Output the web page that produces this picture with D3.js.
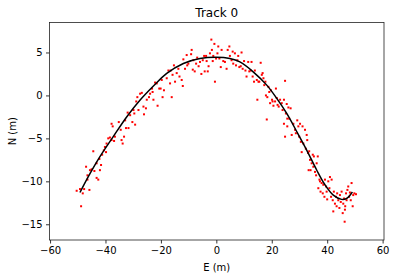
<!DOCTYPE html>
<html>
<head>
<meta charset="utf-8">
<script src="https://cdn.jsdelivr.net/npm/d3@7"></script>
<style>
  body { margin: 0; background: #fff; }
  text { font-family: "DejaVu Sans", sans-serif; fill: #000; }
</style>
</head>
<body>
<div id="chart-area"></div>
<script>
// true track
const trackE = [-49.2, -46.2, -42.0, -37.2, -32.3, -27.5, -22.7, -17.9, -11.9, -5.9, 0, 4.9, 8.5, 13.3, 18.2, 21.8, 25.4, 29.0, 32.6, 36.2, 39.2, 42.2, 45.2, 47.0, 49.1];
const trackN = [-11.3, -9.46, -7.13, -4.8, -2.48, -0.54, 1.09, 2.56, 3.72, 4.3, 4.45, 4.3, 3.9, 2.75, 1.2, -0.35, -2.1, -4.2, -6.36, -8.68, -10.4, -11.6, -12.1, -12.0, -11.24];

// noisy measurements (red dots)
const measE = [-50.4, -49.2, -48.8, -48.2, -47.7, -47.0, -46.5, -45.8, -46.5, -45.6, -45.0, -44.4, -44.0, -43.2, -42.6, -43.2, -42.2, -42.0, -41.6, -41.2,
  -40.6, -40.2, -39.8, -39.6, -39.0, -38.4, -37.8, -37.8, -37.4, -36.9, -36.6, -35.2, -34.5, -34.2, -33.8, -33.3, -32.9, -32.6, -32.0, -31.7,
  -31.1, -30.3, -29.9, -29.6, -29.3, -28.9, -28.5, -28.1, -27.5, -26.9, -26.3, -26.1, -25.4, -25.1, -24.3, -23.9, -23.2, -23.0, -22.7, -22.1,
  -21.5, -21.2, -20.6, -20.1, -19.7, -19.4, -18.9, -17.9, -17.3, -16.7, -16.5, -16.1, -15.8, -15.3, -14.9, -14.3, -13.7, -13.3, -12.5, -12.1,
  -11.9, -11.3, -10.7, -10.5, -10.1, -8.9, -9.1, -8.5, -8.3, -7.8, -7.3, -6.9, -6.4, -5.9, -5.4, -4.9, -4.4, -4.2, -3.7, -3.5,
  -3.1, -2.8, -2.3, -1.8, -1.6, -1.3, -1.1, -0.7, -0.5, -0.1, 0.4, 0.7, 1.1, 1.6, 1.9, 2.5, 3.1, 3.7, 4.1, 4.7,
  4.9, 5.5, 5.9, 6.1, 6.7, 7.1, 7.6, 7.9, 8.3, 8.8, 9.1, 9.5, 10.0, 10.5, 10.9, 11.5, 11.9, 12.4, 12.7, 13.1,
  13.6, 13.9, 14.6, 14.8, 15.2, 15.5, 16.0, 16.4, 16.7, 17.0, 17.3, 17.7, 17.9, 18.4, 18.8, 19.1, 19.4, 19.7, 20.1, 20.3,
  20.6, 21.2, 21.5, 21.8, 22.1, 22.5, 23.0, 23.6, 23.9, 24.4, 24.8, 25.1, 25.4, 25.6, 26.0, 26.3, 26.8, 18.2, 24.4, 24.8,
  25.6, 27.2, 27.8, 28.4, 28.7, 29.2, 29.6, 29.9, 30.2, 30.5, 30.8, 31.1, 31.4, 32.0, 32.3, 32.6, 32.8, 33.1, 33.3, 33.5,
  33.8, 34.0, 34.4, 34.8, 35.0, 35.2, 35.6, 36.0, 36.2, 36.6, 36.8, 37.2, 37.4, 37.6, 38.0, 38.4, 38.6, 39.0, 39.2, 39.6,
  39.8, 40.0, 40.4, 40.8, 41.0, 41.4, 41.6, 42.0, 42.2, 42.4, 42.8, 43.2, 43.4, 43.6, 44.0, 44.4, 44.6, 44.9, 45.2, 45.6,
  45.8, 46.1, 46.3, 46.5, 46.8, 47.0, 47.3, 47.6, 47.9, 48.2, 48.5, 48.8, 49.2, 49.4, 49.8, 50.4, 46.4];
const measN = [-11.1, -10.9, -12.9, -11.4, -10.9, -8.3, -9.3, -11.0, -9.8, -8.7, -8.6, -6.5, -8.8, -9.6, -9.8, -7.9, -7.4, -8.7, -8.1, -6.9,
  -6.4, -6.0, -6.6, -5.6, -5.0, -4.9, -5.2, -3.3, -3.6, -5.3, -4.8, -3.1, -4.0, -5.2, -5.6, -4.8, -2.9, -3.8, -2.0, -3.8,
  -2.3, -3.1, -1.7, -2.1, -3.4, -0.7, -0.2, -1.7, 0.2, 0.3, -1.3, -2.2, -1.5, -0.5, -0.2, 0.2, 0.8, 0.4, -0.5, 1.5,
  1.4, -1.2, 0.8, 0.8, 1.8, -0.2, 0.6, 2.0, 2.9, 1.4, 2.9, -0.2, 2.4, 3.5, 1.6, 2.6, 3.1, 2.2, 1.8, 1.1,
  4.2, 3.1, 4.7, 3.5, 3.7, 5.3, 4.8, 3.0, 4.1, 2.8, 3.7, 4.4, 3.4, 3.9, 2.5, 4.1, 4.6, 2.8, 4.6, 4.0,
  2.8, 3.4, 4.9, 6.5, 5.3, 4.0, 4.6, 6.0, 1.6, 4.3, 4.9, 5.7, 4.3, 3.3, 5.3, 4.0, 3.9, 3.1, 5.3, 5.7,
  4.6, 4.1, 5.1, 3.7, 4.9, 3.5, 4.1, 4.6, 3.3, 3.4, 5.0, 3.1, 4.0, 2.9, 2.2, 3.9, 2.8, 2.9, 3.9, 2.2,
  1.6, 2.9, 1.8, -0.5, 1.6, 1.6, 3.8, 2.4, 2.6, 2.0, 1.2, 1.6, 0.0, -0.2, 1.0, 0.4, -0.9, 0.6, -0.5, -0.7,
  -1.2, -0.7, 0.8, -0.3, -1.1, -1.3, -0.5, -0.9, -1.7, -0.5, 1.7, -2.1, -1.0, -2.7, -1.4, -2.7, -1.5, -2.8, -3.3, -4.8,
  -3.6, -4.6, -3.3, -4.0, -4.4, -2.9, -3.6, -4.8, -3.3, -5.4, -6.6, -3.6, -5.6, -4.0, -6.2, -4.6, -5.2, -6.7, -8.7, -6.5,
  -7.5, -8.7, -7.9, -6.9, -8.3, -7.1, -8.9, -9.3, -7.9, -7.1, -10.8, -9.8, -10.0, -11.2, -10.2, -11.4, -10.4, -11.8, -9.8, -10.6,
  -11.2, -12.1, -10.0, -10.8, -9.5, -11.8, -9.8, -12.2, -13.5, -11.2, -12.6, -11.8, -12.9, -11.4, -12.2, -13.1, -11.6, -12.4, -11.2, -13.7,
  -12.6, -12.0, -14.7, -12.9, -11.4, -12.2, -11.0, -10.6, -11.8, -11.3, -12.2, -10.2, -12.9, -11.6, -11.4, -11.5, -13.3];

const xTicks = [-60, -40, -20, 0, 20, 40, 60];
const yTicks = [-15, -10, -5, 0, 5];

const svgWidth = 395;
const svgHeight = 278;
const margin = { top: 22.5, right: 11, bottom: 38, left: 49.5 };
const width = svgWidth - margin.left - margin.right;
const height = svgHeight - margin.top - margin.bottom;

const svg = d3.select("#chart-area")
              .append("svg")
              .attr("width", svgWidth)
              .attr("height", svgHeight);

const g = svg.append("g")
             .attr("transform", `translate(${margin.left}, ${margin.top})`);

const x = d3.scaleLinear()
            .domain([-60.2, 60.5])
            .range([0, width]);

const y = d3.scaleLinear()
            .domain([-16.83, 8.49])
            .range([height, 0]);

// measurements
g.selectAll("rect.meas")
 .data(measE.map((e, i) => [e, measN[i]]))
 .enter()
 .append("rect")
   .attr("class", "meas")
   .attr("x", d => x(d[0]) - 1)
   .attr("y", d => y(d[1]) - 1)
   .attr("width", 2)
   .attr("height", 2)
   .attr("fill", "red");

// track
const line = d3.line()
               .x(d => x(d[0]))
               .y(d => y(d[1]))
               .curve(d3.curveCatmullRom);

g.append("path")
 .datum(trackE.map((e, i) => [e, trackN[i]]))
 .attr("d", line)
 .attr("fill", "none")
 .attr("stroke", "black")
 .attr("stroke-width", 1.5);

const xAxisCall = d3.axisBottom(x)
                    .tickValues(xTicks)
                    .tickSize(3.5)
                    .tickPadding(3.5);

const yAxisCall = d3.axisLeft(y)
                    .tickValues(yTicks)
                    .tickSize(3.5)
                    .tickPadding(3.5);

const xAxis = g.append("g")
 .attr("class", "x-axis")
 .attr("transform", `translate(0, ${height})`)
 .call(xAxisCall);

const yAxis = g.append("g")
 .attr("class", "y-axis")
 .call(yAxisCall);

[xAxis, yAxis].forEach(a => {
  a.select(".domain").remove();
  a.selectAll("line").attr("stroke", "#000").attr("stroke-width", 0.8);
  a.selectAll("text").attr("font-size", 10).attr("font-family", "DejaVu Sans").attr("fill", "#222");
});

// frame
g.append("rect")
 .attr("width", width)
 .attr("height", height)
 .attr("fill", "none")
 .attr("stroke", "#222")
 .attr("stroke-width", 0.8);

g.append("text")
 .attr("x", width / 2)
 .attr("y", -6)
 .attr("text-anchor", "middle")
 .attr("font-size", 12)
 .text("Track 0");

g.append("text")
 .attr("class", "x-label")
 .attr("x", width / 2)
 .attr("y", height + 31)
 .attr("text-anchor", "middle")
 .attr("font-size", 10)
 .text("E (m)");

g.append("text")
 .attr("class", "y-label")
 .attr("text-anchor", "middle")
 .attr("transform", "rotate(-90)")
 .attr("x", -height / 2)
 .attr("y", -34)
 .attr("font-size", 10)
 .text("N (m)");
</script>
</body>
</html>
